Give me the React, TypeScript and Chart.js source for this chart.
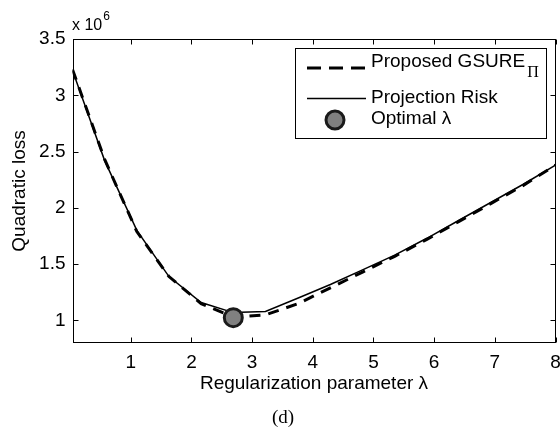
import React, { useEffect, useRef } from "react";
import { Chart, registerables } from "chart.js";

Chart.register(...registerables);

// ---- data (loss values in units of 10^6) ----
const LAMBDA = [0.04, 0.57, 1.1, 1.63, 2.16, 2.69, 3.22, 3.76, 4.29, 4.82, 5.35, 5.88, 6.41, 6.94, 7.47, 8.0];
const PROJECTION_RISK = [3.22, 2.42, 1.8, 1.39, 1.16, 1.07, 1.08, 1.2, 1.32, 1.45, 1.58, 1.73, 1.89, 2.05, 2.21, 2.38];
const GSURE = [3.23, 2.43, 1.79, 1.39, 1.15, 1.03, 1.05, 1.15, 1.29, 1.43, 1.57, 1.72, 1.88, 2.04, 2.2, 2.38];
const OPTIMAL_LAMBDA = [2.69];
const OPTIMAL_LOSS = [1.025];
const X_TICKS = [1, 2, 3, 4, 5, 6, 7, 8];
const Y_TICKS = [1, 1.5, 2, 2.5, 3, 3.5];
const X_MIN = 0.04;
const X_MAX = 8;
const Y_MIN = 0.8;
const Y_MAX = 3.5;
const LEGEND_LABELS = ["Proposed GSURE", "Projection Risk", "Optimal λ"];
const X_TITLE = "Regularization parameter λ";
const Y_TITLE = "Quadratic loss";
const CAPTION = "(d)";

const SANS = '"Liberation Sans", Arial, Helvetica, sans-serif';
const SERIF = '"Liberation Serif", "Times New Roman", serif';
const FS = 19;

export default function App() {
  const ref = useRef<HTMLCanvasElement>(null);

  useEffect(() => {
    const canvas = ref.current;
    if (!canvas) return;

    const framePlugin = {
      id: "matlabFrame",
      afterDraw(chart: any) {
        const { ctx, chartArea: a, scales } = chart;
        const xs = scales.x;
        const ys = scales.y;
        ctx.save();
        ctx.strokeStyle = "#000";
        ctx.lineWidth = 1;
        ctx.setLineDash([]);
        const L = Math.round(a.left) + 0.5;
        const R = Math.round(a.right) - 0.5;
        const T = Math.round(a.top) + 0.5;
        const B = Math.round(a.bottom) - 0.5;
        ctx.strokeRect(L, T, R - L, B - T);
        const tl = 5;
        ctx.beginPath();
        X_TICKS.forEach((v) => {
          const px = Math.round(xs.getPixelForValue(v)) + 0.5;
          ctx.moveTo(px, B);
          ctx.lineTo(px, B - tl);
          ctx.moveTo(px, T);
          ctx.lineTo(px, T + tl);
        });
        Y_TICKS.forEach((v) => {
          const py = Math.round(ys.getPixelForValue(v)) + 0.5;
          ctx.moveTo(L, py);
          ctx.lineTo(L + tl, py);
          ctx.moveTo(R, py);
          ctx.lineTo(R - tl, py);
        });
        ctx.stroke();

        // exponent label
        ctx.fillStyle = "#000";
        ctx.textBaseline = "alphabetic";
        ctx.textAlign = "left";
        ctx.font = `16px ${SANS}`;
        ctx.fillText("x 10", 72, 30);
        const w10 = ctx.measureText("x 10").width;
        ctx.font = `12px ${SANS}`;
        ctx.fillText("6", 72 + w10 + 1, 20);

        // legend
        const lx = 295.5, ly = 48.5, lw = 251, lh = 90;
        ctx.fillStyle = "#fff";
        ctx.fillRect(lx, ly, lw, lh);
        ctx.strokeStyle = "#000";
        ctx.lineWidth = 1;
        ctx.strokeRect(lx, ly, lw, lh);

        ctx.beginPath();
        ctx.lineWidth = 3;
        ctx.setLineDash([14, 8]);
        ctx.moveTo(307, 68);
        ctx.lineTo(366, 68);
        ctx.stroke();

        ctx.beginPath();
        ctx.setLineDash([]);
        ctx.lineWidth = 1.5;
        ctx.moveTo(307, 98.5);
        ctx.lineTo(366, 98.5);
        ctx.stroke();

        ctx.beginPath();
        ctx.arc(335, 120, 9, 0, Math.PI * 2);
        ctx.fillStyle = "#808080";
        ctx.fill();
        ctx.lineWidth = 3;
        ctx.strokeStyle = "#1a1a1a";
        ctx.stroke();

        ctx.fillStyle = "#000";
        ctx.textBaseline = "middle";
        ctx.font = `${FS}px ${SANS}`;
        ctx.fillText(LEGEND_LABELS[0], 371, 62);
        const wg = ctx.measureText(LEGEND_LABELS[0]).width;
        ctx.font = `${FS - 3}px ${SERIF}`;
        ctx.fillText("Π", 371 + wg + 2, 73);
        ctx.font = `${FS}px ${SANS}`;
        ctx.fillText(LEGEND_LABELS[1], 371, 98);
        ctx.fillText(LEGEND_LABELS[2], 371, 119);

        // caption
        ctx.font = `${FS}px ${SERIF}`;
        ctx.textAlign = "center";
        ctx.fillText(CAPTION, 283, 418);
        ctx.restore();
      },
    };

    const font = { family: SANS, size: FS };

    const chart = new Chart(canvas, {
      type: "scatter",
      data: {
        datasets: [
          {
            label: LEGEND_LABELS[2],
            data: OPTIMAL_LAMBDA.map((x, i) => ({ x, y: OPTIMAL_LOSS[i] })),
            showLine: false,
            pointRadius: 9,
            pointBorderWidth: 3,
            pointBackgroundColor: "#808080",
            pointBorderColor: "#1a1a1a",
            order: 0,
          },
          {
            label: LEGEND_LABELS[1],
            data: LAMBDA.map((x, i) => ({ x, y: PROJECTION_RISK[i] })),
            showLine: true,
            borderColor: "#000",
            borderWidth: 1.5,
            pointRadius: 0,
            tension: 0,
            order: 1,
          },
          {
            label: LEGEND_LABELS[0],
            data: LAMBDA.map((x, i) => ({ x, y: GSURE[i] })),
            showLine: true,
            borderColor: "#000",
            borderWidth: 3,
            borderDash: [11, 8],
            pointRadius: 0,
            tension: 0,
            order: 2,
          },
        ],
      },
      options: {
        responsive: false,
        animation: false,
        events: [],
        layout: { autoPadding: false, padding: { top: 39, right: 4.5, left: 0, bottom: 0 } },
        plugins: { legend: { display: false }, tooltip: { enabled: false } },
        scales: {
          x: {
            type: "linear",
            min: X_MIN,
            max: X_MAX,
            afterBuildTicks: (s: any) => {
              s.ticks = X_TICKS.map((v) => ({ value: v }));
            },
            afterFit: (s: any) => {
              s.height = 92;
              s.paddingLeft = 0;
              s.paddingRight = 0;
            },
            grid: { display: false, drawTicks: false },
            border: { display: false },
            ticks: {
              color: "#000",
              font,
              padding: 8,
              maxRotation: 0,
              autoSkip: false,
              callback: (v: any) => String(v),
            },
            title: {
              display: true,
              text: X_TITLE,
              color: "#000",
              font,
              padding: { top: 0, bottom: 39.5 },
            },
          },
          y: {
            type: "linear",
            min: Y_MIN,
            max: Y_MAX,
            afterBuildTicks: (s: any) => {
              s.ticks = Y_TICKS.map((v) => ({ value: v }));
            },
            afterFit: (s: any) => {
              s.width = 72.5;
              s.paddingTop = 0;
              s.paddingBottom = 0;
            },
            grid: { display: false, drawTicks: false },
            border: { display: false },
            ticks: {
              color: "#000",
              font,
              padding: 7,
              autoSkip: false,
              callback: (v: any) => String(v),
            },
            title: {
              display: true,
              text: Y_TITLE,
              color: "#000",
              font,
              padding: { top: 8.5, bottom: 0 },
            },
          },
        },
      },
      plugins: [framePlugin],
    });

    return () => chart.destroy();
  }, []);

  return (
    <div style={{ position: "absolute", left: 0, top: 0, width: 560, height: 435, background: "#fff" }}>
      <canvas ref={ref} width={560} height={435} style={{ width: 560, height: 435, display: "block" }} />
    </div>
  );
}
